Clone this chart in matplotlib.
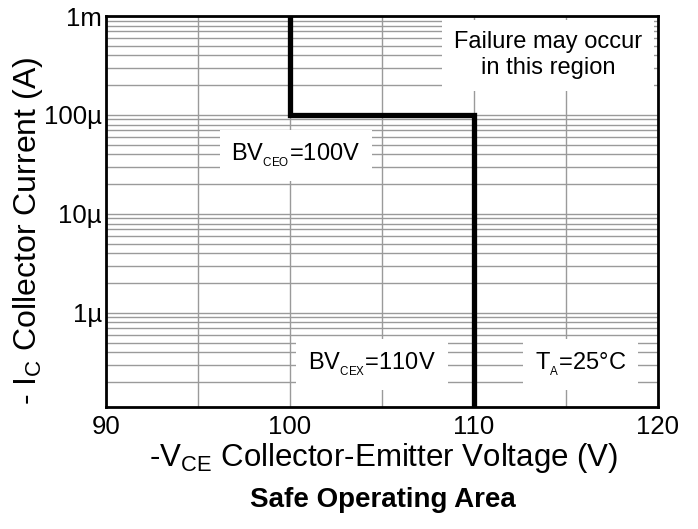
import numpy as np
import matplotlib
matplotlib.use("Agg")
import matplotlib.pyplot as plt
from matplotlib.ticker import FixedLocator, NullFormatter, LogLocator

plt.rcParams["font.family"] = ["Liberation Sans", "DejaVu Sans"]
plt.rcParams["mathtext.fontset"] = "custom"
plt.rcParams["mathtext.rm"] = "Liberation Sans"
plt.rcParams["mathtext.it"] = "Liberation Sans"

# SOA boundary (V, A)
boundary_v = [100, 100, 110, 110]
boundary_i = [1e-3, 1e-4, 1e-4, 1.12e-7]

x_ticks = [90, 100, 110, 120]
x_ticklabels = ["90", "100", "110", "120"]
y_ticks = [1e-6, 1e-5, 1e-4, 1e-3]
y_ticklabels = ["1µ", "10µ", "100µ", "1m"]

fig = plt.figure(figsize=(6.98, 5.29), dpi=100)
ax = fig.add_axes([106 / 698, 1 - 407 / 529, 552 / 698, 391 / 529])

ax.set_yscale("log")
ax.set_xlim(90, 120)
ax.set_ylim(1.12e-7, 1e-3)

ax.xaxis.set_major_locator(FixedLocator(x_ticks))
ax.xaxis.set_minor_locator(FixedLocator([95, 105, 115]))
ax.set_xticklabels(x_ticklabels)
ax.yaxis.set_major_locator(FixedLocator(y_ticks))
ax.yaxis.set_minor_locator(LogLocator(base=10, subs=np.arange(2, 10)))
ax.yaxis.set_minor_formatter(NullFormatter())
ax.set_yticklabels(y_ticklabels)
ax.tick_params(which="both", length=0, labelsize=18.5)
ax.tick_params(axis="x", pad=6)
ax.tick_params(axis="y", pad=3)

ax.grid(True, which="both", color="#9a9a9a", linewidth=1.0)
ax.set_axisbelow(True)
for s in ax.spines.values():
    s.set_linewidth(2.0)

ax.plot(boundary_v, boundary_i, color="black", linewidth=3.8,
        solid_joinstyle="miter", zorder=5)

box = dict(boxstyle="square,pad=0.5", facecolor="white", edgecolor="none")
ax.text(0.801, 0.900, "Failure may occur\nin this region", transform=ax.transAxes,
        ha="center", va="center", fontsize=17, linespacing=1.2, bbox=box, zorder=4)
ax.text(0.344, 0.643, r"BV$_{{}_{\mathregular{CEO}}}$=100V", transform=ax.transAxes,
        ha="center", va="center", fontsize=17, bbox=box, zorder=4)
ax.text(0.482, 0.109, r"BV$_{{}_{\mathregular{CEX}}}$=110V", transform=ax.transAxes,
        ha="center", va="center", fontsize=17, bbox=box, zorder=4)
ax.text(0.860, 0.109, r"T$_{{}_{\mathregular{A}}}$=25°C", transform=ax.transAxes,
        ha="center", va="center", fontsize=17, bbox=box, zorder=4)

fig.text(384 / 698, 1 - 458 / 529, r"-V$_{\mathregular{CE}}$ Collector-Emitter Voltage (V)",
         ha="center", va="center", fontsize=22.5)
fig.text(28 / 698, 1 - 231 / 529, r"- I$_{\mathregular{C}}$ Collector Current (A)",
         ha="center", va="center", rotation=90, fontsize=23)
fig.text(383 / 698, 1 - 500 / 529, "Safe Operating Area",
         ha="center", va="center", fontsize=20, fontweight="bold")

fig.savefig("out.png", dpi=100)
